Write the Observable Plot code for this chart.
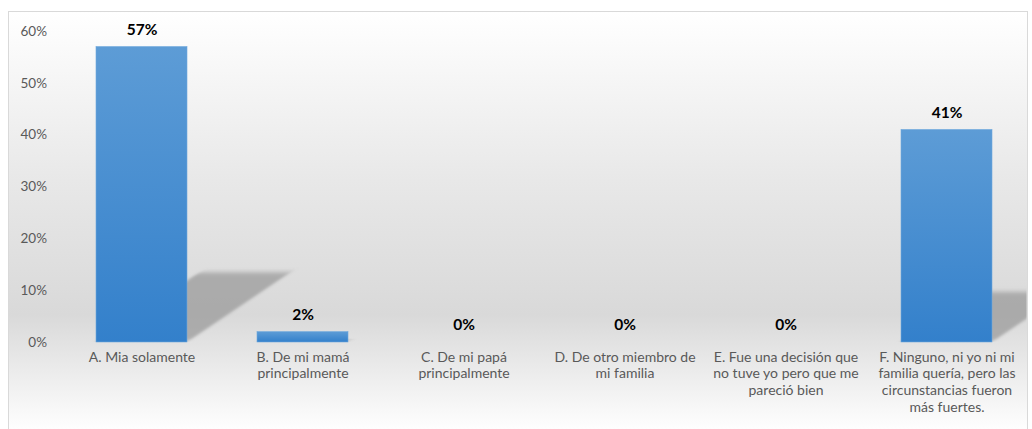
<!DOCTYPE html>
<html>
<head>
<meta charset="utf-8">
<script src="https://cdn.jsdelivr.net/npm/d3@7"></script>
<script src="https://cdn.jsdelivr.net/npm/@observablehq/plot@0.6"></script>
<style>
  html, body { margin: 0; padding: 0; background: #fff; }
  #wrap { position: relative; width: 1032px; height: 429px; overflow: hidden; font-family: Lato, "Open Sans", sans-serif; }
  #frame { position: absolute; left: 8px; top: 11px; width: 1018px; height: 420px; border: 1px solid #d9d9d9;
           background: linear-gradient(to bottom, #ffffff 0%, #e8e8e8 40%, #d9d9d9 72%, #ffffff 100%); }
  #chart { position: absolute; left: 0; top: 0; }
</style>
</head>
<body>
<svg width="0" height="0" style="position:absolute">
  <defs>
    <linearGradient id="barGrad" x1="0" y1="0" x2="0" y2="1">
      <stop offset="0%" stop-color="#5d9cd6"/>
      <stop offset="100%" stop-color="#3380cb"/>
    </linearGradient>
    <filter id="shadowBlur" x="-20%" y="-20%" width="140%" height="140%">
      <feGaussianBlur stdDeviation="2.5"/>
    </filter>
  </defs>
</svg>
<div id="wrap"><div id="frame"></div><div id="chart"></div></div>
<script>
const categories = [
  "A. Mia solamente",
  "B. De mi mamá\nprincipalmente",
  "C. De mi papá\nprincipalmente",
  "D. De otro miembro de\nmi familia",
  "E. Fue una decisión que\nno tuve yo pero que me\npareció bien",
  "F. Ninguno, ni yo ni mi\nfamilia quería, pero las\ncircunstancias fueron\nmás fuertes."
];
const values = [0.57, 0.02, 0, 0, 0, 0.41];
const yTicks = [0, 0.1, 0.2, 0.3, 0.4, 0.5, 0.6];

const data = categories.map((c, i) => ({category: c, value: values[i]}));
const pct = v => Math.round(v * 100) + "%";

const shadowScale = 0.236;
const skewDeg = -56;

const chart = Plot.plot({
  width: 1032,
  height: 429,
  marginLeft: 60.5,
  marginRight: 5.5,
  marginTop: 31,
  marginBottom: 87,
  style: {background: "transparent", color: "#595959", fontFamily: "Lato, 'Open Sans', sans-serif", fontSize: "13px", overflow: "hidden"},
  x: {domain: categories, paddingInner: 0.435, paddingOuter: 0.2175, axis: null},
  y: {domain: [0, 0.6], axis: null},
  marks: [
    Plot.barY(data, {
      x: "category",
      y: d => d.value * shadowScale,
      fill: "#8c8c8c",
      fillOpacity: 0.62,
      clip: "frame",
      render: (index, scales, values, dimensions, context, next) => {
        const g = next(index, scales, values, dimensions, context);
        const base = scales.y(0);
        g.querySelectorAll("rect").forEach(r => {
          r.setAttribute("transform", `translate(0 ${base}) skewX(${skewDeg}) translate(0 ${-base})`);
          r.setAttribute("filter", "url(#shadowBlur)");
        });
        return g;
      }
    }),
    Plot.barY(data, {x: "category", y: "value", fill: "url(#barGrad)", stroke: "#6ea8dd", strokeWidth: 0.6}),
    Plot.axisY({ticks: yTicks, tickSize: 0, tickPadding: 14, tickFormat: pct, fontSize: 13.5, label: null}),
    Plot.text(data, {
      x: "category", y: "value", text: d => pct(d.value),
      dy: -17, lineAnchor: "middle", fill: "#000", fontWeight: "bold", fontSize: 15.5
    }),
    Plot.text(data, {
      x: "category", text: "category", frameAnchor: "bottom", lineAnchor: "top",
      dy: 7, lineHeight: 1.21, fontSize: 14, fill: "#595959"
    })
  ]
});
document.getElementById("chart").appendChild(chart);
</script>
</body>
</html>
